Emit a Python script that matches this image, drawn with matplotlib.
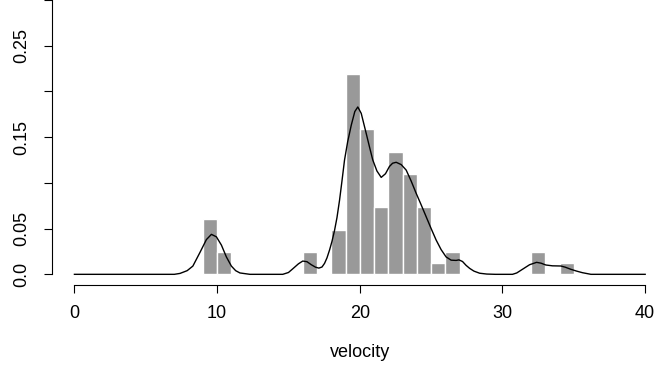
import numpy as np
import matplotlib
matplotlib.use("Agg")
import matplotlib.pyplot as plt

plt.rcParams['font.family'] = ['Liberation Sans', 'DejaVu Sans']

# histogram of velocity (1000 km/s), bin width 1, counts per bin
bin_left = [9, 10, 16, 18, 19, 20, 21, 22, 23, 24, 25, 26, 32, 34]
counts = [5, 2, 2, 4, 18, 13, 6, 11, 9, 6, 1, 2, 2, 1]
n_total = 82

# fitted density curve
curve_x = [0, 7.0, 7.4, 7.9, 8.3, 8.8, 9.25, 9.6, 9.95, 10.3, 10.65, 11.0, 11.3,
           11.6, 12.3, 14.6, 15.0, 15.3, 15.7, 16.0, 16.3, 16.6, 16.9, 17.13,
           17.35, 17.53, 17.7, 17.88, 18.05, 18.23, 18.4, 18.58, 18.75, 18.93,
           19.15, 19.4, 19.65, 19.86, 20.1, 20.45, 20.7, 20.91, 21.2, 21.5,
           21.8, 22.08, 22.3, 22.55, 22.9, 23.25, 23.6, 23.95, 24.3, 24.65,
           25.0, 25.35, 25.7, 26.05, 26.4, 26.75, 26.95, 27.2, 27.45, 27.7,
           28.0, 28.4, 28.9, 29.5, 30.7, 31.0, 31.4, 31.9, 32.39, 32.7, 33.04,
           33.5, 34.09, 34.4, 34.79, 35.2, 35.6, 36.2, 40]
curve_y = [0, 0, 0.001, 0.004, 0.009, 0.024, 0.038, 0.0437, 0.041, 0.032,
           0.019, 0.009, 0.004, 0.0015, 0, 0, 0.002, 0.006, 0.0115, 0.0145,
           0.0138, 0.0105, 0.0078, 0.0068, 0.008, 0.012, 0.018, 0.0266, 0.036,
           0.048, 0.062, 0.081, 0.102, 0.125, 0.145, 0.163, 0.178, 0.183,
           0.176, 0.154, 0.138, 0.125, 0.113, 0.106, 0.110, 0.118, 0.1215,
           0.1225, 0.120, 0.114, 0.102, 0.0886, 0.076, 0.063, 0.050, 0.0375,
           0.027, 0.019, 0.0155, 0.0152, 0.0158, 0.014, 0.0098, 0.0065, 0.0035,
           0.0012, 0.0003, 0, 0, 0.0015, 0.0055, 0.0105, 0.0131, 0.0122,
           0.0102, 0.0093, 0.0091, 0.0078, 0.0055, 0.0035, 0.0018, 0, 0]

xticks = [0, 10, 20, 30, 40]
yticks = [0.0, 0.05, 0.10, 0.15, 0.20, 0.25, 0.30]
ytick_labels = ['0.0', '0.05', '', '0.15', '', '0.25', '']

W, H = 654, 366
fig = plt.figure(figsize=(W / 100, H / 100), dpi=100)
# R-style plot region (extends a bit past the right edge of the picture)
left, right, bottom, top = 51.6, 668.0, 285.3, -11.0
ax = fig.add_axes([left / W, (H - bottom) / H, (right - left) / W, (bottom - top) / H])

heights = np.array(counts) / n_total
ax.bar(bin_left, heights, width=1, align='edge', color='#999999',
       edgecolor='white', linewidth=1.0, zorder=1)
ax.plot(curve_x, curve_y, color='black', linewidth=1.0, zorder=2)

ax.set_xlim(-1.6, 41.6)
ax.set_ylim(-0.012, 0.312)

for s in ['top', 'right']:
    ax.spines[s].set_visible(False)
ax.spines['left'].set_bounds(0, 0.30)
ax.spines['bottom'].set_bounds(0, 40)
for s in ['left', 'bottom']:
    ax.spines[s].set_linewidth(0.8)

ax.set_xticks(xticks)
ax.set_xticklabels([str(t) for t in xticks])
ax.set_yticks(yticks)
ax.set_yticklabels(ytick_labels, rotation=90, va='center')
ax.tick_params(axis='both', direction='out', length=5.5, width=0.8,
               labelsize=13)
ax.tick_params(axis='x', pad=8.5)
ax.tick_params(axis='y', pad=10)

ax.set_xlabel('velocity', fontsize=13, labelpad=16)

fig.savefig('out.png', dpi=100)
